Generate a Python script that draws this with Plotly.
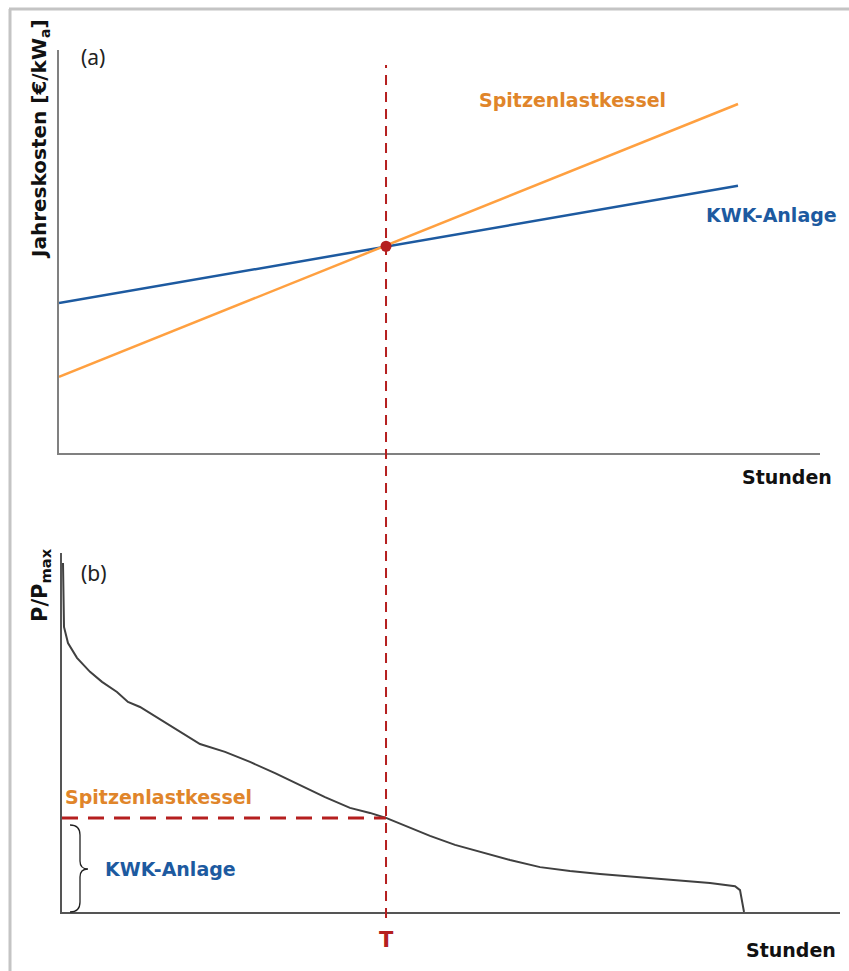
import plotly.graph_objects as go

W, H = 849, 971

# ---------------- data ----------------
# (a) annual costs vs. full-load hours
cost_hours = [0, 8760]
kwk_cost = [37.2, 66.3]          # KWK-Anlage
spitzen_cost = [18.9, 86.6]      # Spitzenlastkessel
T_hours = 4219                   # break-even point T
T_cost = 51.3

# (b) load duration curve P/Pmax over hours
load_hours = [13, 26, 78, 195, 365, 521, 716, 859, 1016, 1185, 1432, 1797, 2123,
              2448, 2774, 3099, 3425, 3750, 4011, 4219, 4532, 4792, 5118, 5443,
              5834, 6225, 6615, 7006, 7527, 8048, 8438, 8764, 8829, 8881]
load_pu = [0.972, 0.794, 0.749, 0.708, 0.669, 0.641, 0.613, 0.585, 0.571, 0.549,
           0.515, 0.468, 0.446, 0.418, 0.387, 0.354, 0.320, 0.290, 0.276, 0.262,
           0.234, 0.212, 0.187, 0.167, 0.145, 0.125, 0.114, 0.106, 0.097, 0.089,
           0.081, 0.072, 0.061, 0.0]
T_load = 0.262

# ---------------- helpers ----------------
def px(x):
    return x / W

def py(y):
    return 1 - y / H

ORANGE_LINE = "#ffa040"
ORANGE_TXT = "#e0852a"
BLUE = "#1d5aa0"
RED = "#b51f1f"
FONT = "DejaVu Sans"

fig = go.Figure()

fig.add_trace(go.Scatter(x=cost_hours, y=kwk_cost, mode="lines",
                         line=dict(color=BLUE, width=2.5), xaxis="x", yaxis="y",
                         hoverinfo="skip"))
fig.add_trace(go.Scatter(x=cost_hours, y=spitzen_cost, mode="lines",
                         line=dict(color=ORANGE_LINE, width=2.5), xaxis="x", yaxis="y",
                         hoverinfo="skip"))
fig.add_trace(go.Scatter(x=[T_hours], y=[T_cost], mode="markers",
                         marker=dict(color=RED, size=11), xaxis="x", yaxis="y",
                         hoverinfo="skip"))
fig.add_trace(go.Scatter(x=load_hours, y=load_pu, mode="lines",
                         line=dict(color="#404040", width=2), xaxis="x2", yaxis="y2",
                         hoverinfo="skip"))

axis_common = dict(showgrid=False, zeroline=False, showticklabels=False, ticks="",
                   showline=True, fixedrange=True)

fig.update_layout(
    width=W, height=H, autosize=False,
    margin=dict(l=0, r=0, t=0, b=0, pad=0),
    paper_bgcolor="white", plot_bgcolor="white",
    showlegend=False,
    xaxis=dict(domain=[px(59), px(820)], range=[0, 9818], anchor="y",
               linecolor="#808080", linewidth=2, **axis_common),
    yaxis=dict(domain=[py(453), py(50)], range=[0, 100], anchor="x",
               linecolor="#808080", linewidth=2, **axis_common),
    xaxis2=dict(domain=[px(62), px(840)], range=[0, 10131], anchor="y2",
                linecolor="#555555", linewidth=1.5, **axis_common),
    yaxis2=dict(domain=[py(912), py(553)], range=[0, 1], anchor="x2",
                linecolor="#555555", linewidth=1.5, **axis_common),
)

shapes = []
# outer light-gray border (top & left)
shapes.append(dict(type="line", xref="paper", yref="paper", x0=px(9), x1=1,
                   y0=py(9), y1=py(9), line=dict(color="#c4c4c4", width=3)))
shapes.append(dict(type="line", xref="paper", yref="paper", x0=px(10), x1=px(10),
                   y0=py(9), y1=0, line=dict(color="#c4c4c4", width=3)))
# vertical dashed line at T through both panels
shapes.append(dict(type="line", xref="x", yref="paper", x0=T_hours, x1=T_hours,
                   y0=py(918), y1=py(65), line=dict(color=RED, width=2, dash="10px,7px")))
# horizontal dashed line at load level of T
shapes.append(dict(type="line", xref="x2", yref="y2", x0=0, x1=T_hours,
                   y0=T_load, y1=T_load, line=dict(color=RED, width=3, dash="16px,10px")))

# brace "}"
def P(x, y):
    return f"{px(x):.5f},{py(y):.5f}"

brace = (f"M {P(70,825)} Q {P(80,825)} {P(80,835)} L {P(80,861)} "
         f"Q {P(80,869)} {P(88,869)} Q {P(80,869)} {P(80,877)} "
         f"L {P(80,902)} Q {P(80,912)} {P(70,912)}")
shapes.append(dict(type="path", xref="paper", yref="paper", path=brace,
                   line=dict(color="#222222", width=1.3)))
fig.update_layout(shapes=shapes)

ann = []
def text(x, y, s, size=19, color="#111111", bold=True, xanchor="center",
         angle=0, family=FONT):
    ann.append(dict(x=px(x), y=py(y), xref="paper", yref="paper",
                    text=(f"<b>{s}</b>" if bold else s), showarrow=False,
                    xanchor=xanchor, yanchor="middle", textangle=angle,
                    font=dict(family=family, size=size, color=color)))

text(79, 57, "(a)", size=21, color="#222222", bold=False, xanchor="left",
     family="Noto Sans")
text(572, 100, "Spitzenlastkessel", color=ORANGE_TXT)
text(771, 215, "KWK-Anlage", color=BLUE)
text(834, 477, "Stunden", xanchor="right")
text(40, 139, "Jahreskosten [€/kW<sub>a</sub>]", size=20, angle=-90)
text(79, 573, "(b)", size=21, color="#222222", bold=False, xanchor="left",
     family="Noto Sans")
text(41, 585, "P/P<sub>max</sub>", size=21, angle=-90)
text(63, 797, "Spitzenlastkessel", color=ORANGE_TXT, xanchor="left")
text(103, 869, "KWK-Anlage", color=BLUE, xanchor="left")
text(386, 940, "T", color=RED, size=21)
text(838, 950, "Stunden", xanchor="right")
fig.update_layout(annotations=ann)

fig.write_html("out.html", config={"displayModeBar": False})
